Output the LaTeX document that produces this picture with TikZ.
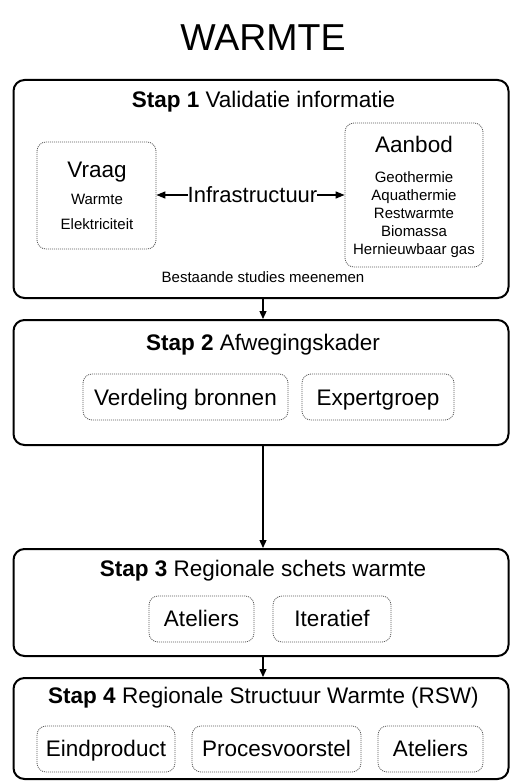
\documentclass[tikz,border=0pt]{standalone}
\usepackage{fontspec}
\setmainfont{Liberation Sans}
\usetikzlibrary{arrows.meta}
\newcommand{\fs}[1]{\fontsize{#1}{#1}\selectfont}
\tikzset{
  mainbox/.style={draw=black, line width=2pt, rounded corners=11pt, minimum width=495pt, inner sep=0pt},
  subbox/.style={draw=black!65, line width=0.8pt, dash pattern=on 1pt off 1pt, rounded corners=9pt, inner sep=0pt},
  bigtxt/.style={font=\fs{22.5}, anchor=base, inner sep=0pt},
  smalltxt/.style={font=\fs{15}, anchor=base, inner sep=0pt},
  flow/.style={draw=black, line width=1.3pt, -{Triangle[length=8pt,width=7pt]}},
  infra/.style={draw=black, line width=1.3pt, -{Triangle[length=9pt,width=7pt]}}
}
\begin{document}
\begin{tikzpicture}[x=1pt,y=-1pt]
\useasboundingbox (0,0) rectangle (510,781);
% title
\node[font=\fs{37.5}, anchor=base, inner sep=0pt] (title) at (263,51) {WARMTE};
% step boxes
\node[mainbox, minimum height=218pt] (s1) at (261,189) {};
\node[mainbox, minimum height=125pt] (s2) at (261,382.5) {};
\node[mainbox, minimum height=107pt] (s3) at (261,602.5) {};
\node[mainbox, minimum height=101pt] (s4) at (261,728.5) {};
% step 1 content
\node[bigtxt] (t1) at (263.5,107) {\textbf{Stap 1} Validatie informatie};
\node[subbox, minimum width=119pt, minimum height=107pt] (vraag) at (96.5,195.5) {};
\node[bigtxt] (vraagt) at (97,177) {Vraag};
\node[smalltxt] (warmte) at (97,204) {Warmte};
\node[smalltxt] (elek) at (97,229) {Elektriciteit};
\node[subbox, minimum width=138pt, minimum height=144pt] (aanbod) at (414,195) {};
\node[bigtxt] (aanbodt) at (414,152) {Aanbod};
\node[smalltxt] (geo) at (414,182) {Geothermie};
\node[smalltxt] (aqua) at (414,200) {Aquathermie};
\node[smalltxt] (rest) at (414,218) {Restwarmte};
\node[smalltxt] (bio) at (414,236) {Biomassa};
\node[smalltxt] (gas) at (414,254) {Hernieuwbaar gas};
\node[font=\fs{22}, inner sep=0pt, anchor=base] (infra) at (252.5,202) {Infrastructuur};
\coordinate (infraw) at (188,195);
\coordinate (infrae) at (317,195);
\draw[infra] (infraw) -- (vraag.east |- infraw);
\draw[infra] (infrae) -- (aanbod.west |- infrae);
\node[smalltxt] (best) at (263,282) {Bestaande studies meenemen};
% step 2 content
\node[bigtxt] (t2) at (263,350) {\textbf{Stap 2} Afwegingskader};
\node[subbox, minimum width=205pt, minimum height=46pt] (verd) at (185.5,397) {};
\node[bigtxt] (verdt) at (185.5,405) {Verdeling bronnen};
\node[subbox, minimum width=152pt, minimum height=46pt] (exp) at (378,397) {};
\node[bigtxt] (expt) at (378,405) {Expertgroep};
% step 3 content
\node[bigtxt] (t3) at (263,576) {\textbf{Stap 3} Regionale schets warmte};
\node[subbox, minimum width=105pt, minimum height=46pt] (at3) at (201.5,619) {};
\node[bigtxt] (at3t) at (201.5,626) {Ateliers};
\node[subbox, minimum width=118pt, minimum height=46pt] (iter) at (332,619) {};
\node[bigtxt] (itert) at (332,626) {Iteratief};
% step 4 content
\node[bigtxt] (t4) at (263.5,703) {\textbf{Stap 4} Regionale Structuur Warmte (RSW)};
\node[subbox, minimum width=138pt, minimum height=46pt] (eind) at (106,749) {};
\node[bigtxt] (eindt) at (106,756) {Eindproduct};
\node[subbox, minimum width=169pt, minimum height=46pt] (proc) at (276.5,749) {};
\node[bigtxt] (proct) at (276.5,756) {Procesvoorstel};
\node[subbox, minimum width=105pt, minimum height=46pt] (at4) at (430.5,749) {};
\node[bigtxt] (at4t) at (430.5,756) {Ateliers};
% flow arrows
\draw[flow] (s1.south -| 263,0) -- (s2.north -| 263,0);
\draw[flow] (s2.south -| 263,0) -- (s3.north -| 263,0);
\draw[flow] (s3.south -| 263,0) -- (s4.north -| 263,0);
\end{tikzpicture}
\end{document}
